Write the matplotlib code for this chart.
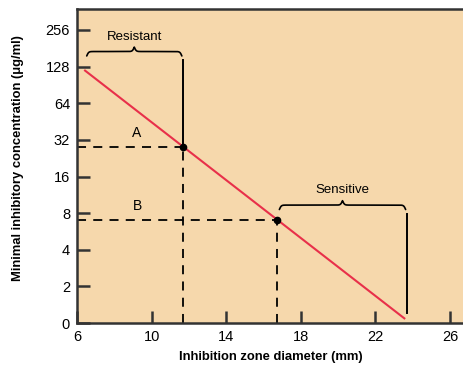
import matplotlib
matplotlib.use('Agg')
import matplotlib.pyplot as plt
import numpy as np

plt.rcParams['font.family'] = ['Liberation Sans', 'DejaVu Sans']

# y axis is a doubling scale: tick positions 0..8 carry these labels
yTickLabels = ['0', '2', '4', '8', '16', '32', '64', '128', '256']
xTicks = [6, 10, 14, 18, 22, 26]

# regression line (zone diameter in mm, position on doubling scale)
lineX = [6.43, 23.55]
lineY = [6.89, 0.13]

# the two marked isolates
pointNames = ['A', 'B']
pointX = [11.7, 16.71]
pointY = [4.80, 2.82]

# interpretive ranges: (start mm, end mm, brace height)
resistant = [6.52, 11.62, 7.41]
sensitive = [16.85, 23.62, 3.22]


def drawBrace(ax, x0, x1, y, h=0.24, beta=20.0):
	"""Draws a horizontal curly brace opening downward."""
	half = (x1 - x0) / 2
	xs = np.linspace(0, half, 300)
	ys = 1 / (1 + np.exp(-beta * xs)) + 1 / (1 + np.exp(-beta * (xs - half)))
	ys = y + h * (ys - 1)
	xAll = np.concatenate([x0 + xs, x1 - xs[::-1]])
	yAll = np.concatenate([ys, ys[::-1]])
	ax.plot(xAll, yAll, color='black', lw=1.2, solid_capstyle='round')


fig = plt.figure(figsize=(4.64, 3.68), dpi=100)
ax = fig.add_axes([0.166, 0.122, 0.834, 0.8535])
ax.set_facecolor('#F6D8AC')

ax.plot(lineX, lineY, color='#E8304A', lw=1.5, zorder=3)

for name, px, py in zip(pointNames, pointX, pointY):
	ax.plot([6, px], [py, py], color='black', lw=1.3, dashes=(5, 4))
	ax.plot([px, px], [0, py], color='black', lw=1.3, dashes=(5, 4))
	ax.plot(px, py, 'o', color='black', ms=4.5, zorder=4)
	ax.text(9.22, py + 0.38, name, ha='center', va='center', fontsize=10)

# resistant range
drawBrace(ax, resistant[0], resistant[1], resistant[2])
ax.plot([pointX[0], pointX[0]], [7.19, pointY[0]], color='black', lw=1.4)
ax.text((resistant[0] + resistant[1]) / 2, resistant[2] + 0.4, 'Resistant',
		ha='center', va='center', fontsize=9.5)

# sensitive range
drawBrace(ax, sensitive[0], sensitive[1], sensitive[2])
ax.plot([23.67, 23.67], [2.98, 0.27], color='black', lw=1.4)
ax.text((sensitive[0] + sensitive[1]) / 2, sensitive[2] + 0.4, 'Sensitive',
		ha='center', va='center', fontsize=9.5)

ax.set_xlim(6, 26.75)
ax.set_ylim(0, 8.57)
ax.set_xticks(xTicks)
ax.set_xticklabels([str(t) for t in xTicks], fontsize=10.5)
ax.set_yticks(np.arange(len(yTickLabels)))
ax.set_yticklabels(yTickLabels, fontsize=10.5)
ax.tick_params(direction='in', length=9, width=1.8, color='#333333', pad=5)

for side in ['left', 'bottom', 'top']:
	ax.spines[side].set_linewidth(1.8)
	ax.spines[side].set_color('#333333')
ax.spines['right'].set_visible(False)

ax.set_xlabel('Inhibition zone diameter (mm)', fontweight='bold', fontsize=9.4, labelpad=5)
ax.set_ylabel('Minimal inhibitory concentration (\u03bcg/ml)', fontweight='bold', fontsize=9.4)
ax.yaxis.set_label_coords(-0.137, 0.525)

fig.savefig('out.png', dpi=100)
